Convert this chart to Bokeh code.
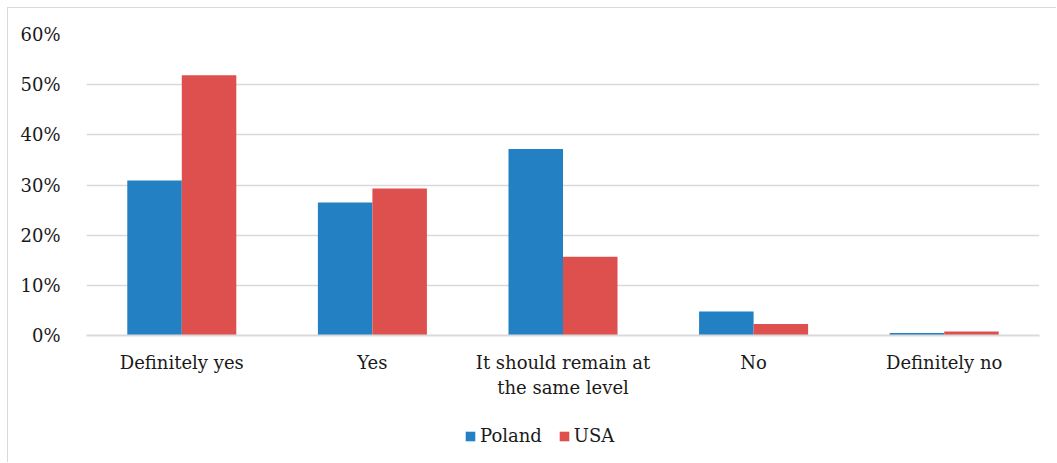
from bokeh.plotting import figure
from bokeh.layouts import column
from bokeh.models import (ColumnDataSource, FactorRange, Legend, LegendItem, NumeralTickFormatter,
                          FixedTicker, Range1d)
from bokeh.transform import dodge
from bokeh.embed import file_html
from bokeh.resources import INLINE

categories = ["Definitely yes", "Yes", "It should remain at\nthe same level", "No", "Definitely no"]
poland = [0.309, 0.265, 0.372, 0.048, 0.005]
usa = [0.519, 0.293, 0.157, 0.023, 0.008]
series_names = ["Poland", "USA"]
colors = ["#2381c3", "#de504e"]
y_ticks = [0, 0.1, 0.2, 0.3, 0.4, 0.5, 0.6]

FONT = "DejaVu Serif"
FS = "18px"
TXT = "#1a1a1a"
BORDER = "1px solid #d9d9d9"

src = ColumnDataSource(dict(cat=categories, poland=poland, usa=usa))

p = figure(width=1049, height=402, x_range=FactorRange(*categories), y_range=(0, 0.6),
           output_backend="svg", toolbar_location=None,
           min_border_left=78, min_border_right=18, min_border_top=26, min_border_bottom=75,
           margin=(7, 0, 0, 7), styles={"border-top": BORDER, "border-left": BORDER})
p.outline_line_color = None
p.background_fill_color = "white"
p.border_fill_color = "white"

bw = 0.286
r1 = p.vbar(x=dodge("cat", -bw / 2, range=p.x_range), top="poland", width=bw, source=src,
            fill_color=colors[0], line_color=None)
r2 = p.vbar(x=dodge("cat", bw / 2, range=p.x_range), top="usa", width=bw, source=src,
            fill_color=colors[1], line_color=None)

p.yaxis.ticker = FixedTicker(ticks=y_ticks)
p.yaxis.formatter = NumeralTickFormatter(format="0%")
p.yaxis.axis_line_color = None
p.yaxis.major_tick_line_color = None
p.yaxis.minor_tick_line_color = None
p.yaxis.major_label_standoff = 20
p.yaxis.major_label_text_font = FONT
p.yaxis.major_label_text_font_size = FS
p.yaxis.major_label_text_color = TXT

p.xaxis.axis_line_color = "#d9d9d9"
p.xaxis.axis_line_width = 2
p.xaxis.major_tick_line_color = None
p.xaxis.minor_tick_line_color = None
p.xaxis.major_label_standoff = 10
p.xaxis.major_label_text_font = FONT
p.xaxis.major_label_text_font_size = FS
p.xaxis.major_label_text_color = TXT

p.xgrid.grid_line_color = None
p.ygrid.grid_line_color = "#d9d9d9"
p.ygrid.grid_line_width = 1.5

# legend strip below the chart
lf = figure(width=1049, height=53, x_range=Range1d(0, 1), y_range=Range1d(0, 1),
            output_backend="svg", toolbar_location=None,
            min_border_left=0, min_border_right=0, min_border_top=0, min_border_bottom=0,
            margin=(0, 0, 0, 7), styles={"border-left": BORDER})
lf.axis.visible = False
lf.grid.grid_line_color = None
lf.outline_line_color = None
lf.background_fill_color = "white"
lf.border_fill_color = "white"
# legend-only renderers, placed outside the visible range
lr1 = lf.vbar(x=[-5], top=[0], width=0.1, fill_color=colors[0], line_color=None)
lr2 = lf.vbar(x=[-5], top=[0], width=0.1, fill_color=colors[1], line_color=None)

legend = Legend(items=[LegendItem(label=series_names[0], renderers=[lr1]),
                       LegendItem(label=series_names[1], renderers=[lr2])],
                orientation="horizontal", location=(378, 16),
                label_text_font=FONT, label_text_font_size=FS, label_text_color=TXT,
                glyph_width=12, glyph_height=12, label_standoff=4, spacing=16,
                padding=0, margin=0, label_height=20,
                border_line_color=None, background_fill_alpha=0)
lf.add_layout(legend, "center")

layout = column(p, lf, spacing=0)
open("out.html", "w").write(file_html(layout, INLINE))
